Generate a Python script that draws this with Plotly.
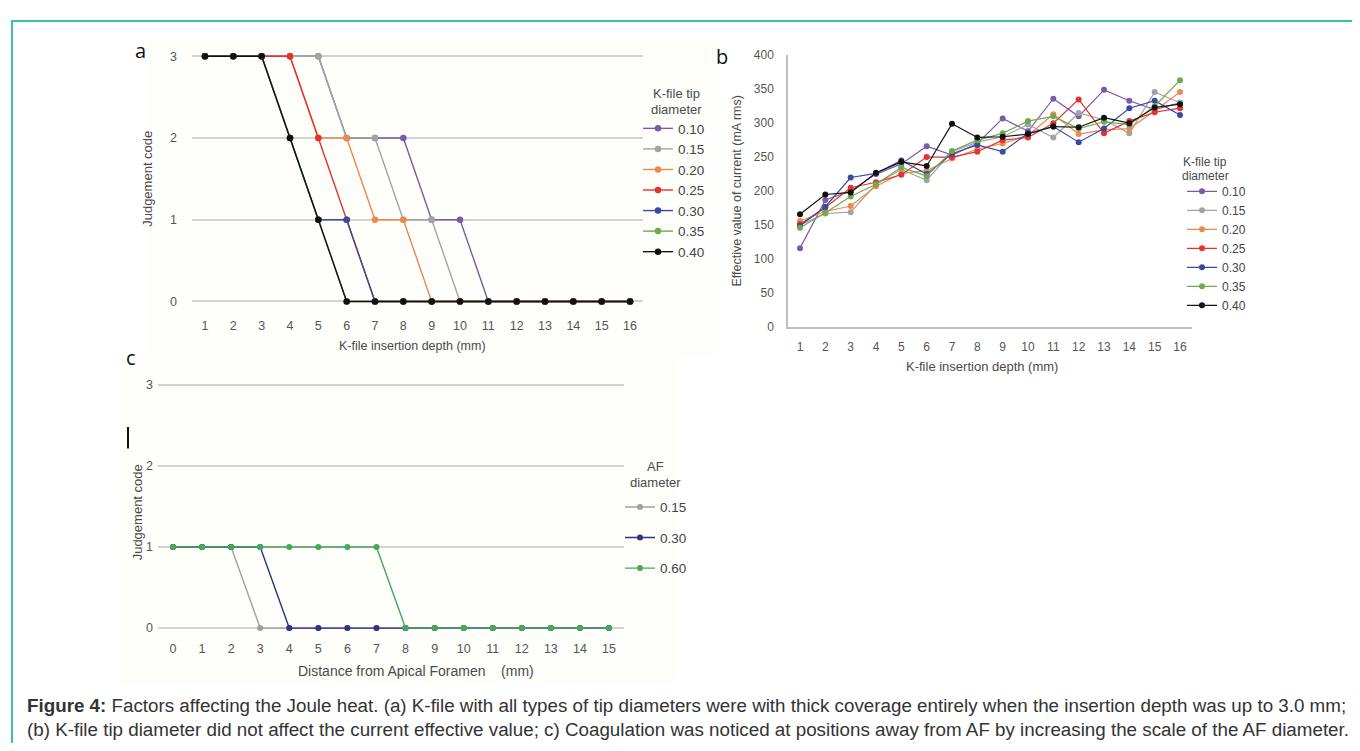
import plotly.graph_objects as go

# page body has an 8px margin; figure sized so the page never overflows the window
OFF = 8
W, H = 1360 - OFF, 751 - 2 * OFF

# ---------------- data ----------------
depth_a = list(range(1, 17))
tip_labels = ["0.10", "0.15", "0.20", "0.25", "0.30", "0.35", "0.40"]
tip_colors = ["#7a5ba8", "#a3a3a3", "#eb8a4b", "#e8302c", "#3c4a9e", "#6fa94d", "#111111"]

code_010 = [3, 3, 3, 3, 3, 2, 2, 2, 1, 1, 0, 0, 0, 0, 0, 0]
code_015 = [3, 3, 3, 3, 3, 2, 2, 1, 1, 0, 0, 0, 0, 0, 0, 0]
code_020 = [3, 3, 3, 3, 2, 2, 1, 1, 0, 0, 0, 0, 0, 0, 0, 0]
code_025 = [3, 3, 3, 3, 2, 1, 0, 0, 0, 0, 0, 0, 0, 0, 0, 0]
code_030 = [3, 3, 3, 2, 1, 1, 0, 0, 0, 0, 0, 0, 0, 0, 0, 0]
code_035 = [3, 3, 3, 2, 1, 0, 0, 0, 0, 0, 0, 0, 0, 0, 0, 0]
code_040 = [3, 3, 3, 2, 1, 0, 0, 0, 0, 0, 0, 0, 0, 0, 0, 0]
codes_a = [code_010, code_015, code_020, code_025, code_030, code_035, code_040]

depth_b = list(range(1, 17))
cur_010 = [116, 187, 200, 225, 240, 266, 253, 270, 307, 288, 336, 310, 349, 333, 320, 330]
cur_015 = [150, 167, 169, 210, 232, 216, 258, 272, 280, 298, 279, 315, 305, 285, 346, 330]
cur_020 = [156, 170, 178, 207, 226, 230, 248, 262, 270, 282, 313, 284, 290, 292, 318, 346]
cur_025 = [151, 176, 205, 213, 224, 250, 250, 258, 275, 279, 300, 335, 285, 303, 316, 322]
cur_030 = [149, 177, 220, 226, 245, 225, 255, 268, 258, 285, 295, 272, 292, 322, 333, 312]
cur_035 = [146, 168, 192, 210, 235, 222, 259, 275, 285, 303, 310, 292, 302, 298, 325, 363]
cur_040 = [166, 195, 198, 227, 243, 237, 299, 279, 280, 284, 295, 294, 308, 300, 323, 328]
currents_b = [cur_010, cur_015, cur_020, cur_025, cur_030, cur_035, cur_040]

dist_c = list(range(0, 16))
af_labels = ["0.15", "0.30", "0.60"]
af_colors = ["#a0a0a0", "#2f3580", "#45a85a"]
af_015 = [1, 1, 1, 0, 0, 0, 0, 0, 0, 0, 0, 0, 0, 0, 0, 0]
af_030 = [1, 1, 1, 1, 0, 0, 0, 0, 0, 0, 0, 0, 0, 0, 0, 0]
af_060 = [1, 1, 1, 1, 1, 1, 1, 1, 0, 0, 0, 0, 0, 0, 0, 0]
codes_c = [af_015, af_030, af_060]

ticks_a = list(range(1, 17))
ticks_b_y = [0, 50, 100, 150, 200, 250, 300, 350, 400]
ticks_c = list(range(0, 16))

# ---------------- helpers (window pixel layout -> paper/range) ----------------
def px(x):
    return (x - OFF) / W

def py(y):
    return 1 - (y - OFF) / H

def axis_range(v1, p1, v2, p2, lo, hi):
    s = (p2 - p1) / (v2 - v1)
    return [v1 + (lo - p1) / s, v1 + (hi - p1) / s]

FAM = "Liberation Sans, Arial"
TXT = "#4a4a4a"
TICKA = dict(family=FAM, size=12.5, color="#555555")
TICKB = dict(family=FAM, size=12, color="#555555")
GRID = "#d2d2d2"

fig = go.Figure()

for lab, col, ys in zip(tip_labels, tip_colors, codes_a):
    fig.add_trace(go.Scatter(
        x=depth_a, y=ys, name=lab, mode="lines+markers",
        line=dict(color=col, width=1.4), marker=dict(color=col, size=6.5),
        xaxis="x", yaxis="y", legend="legend"))

for lab, col, ys in zip(tip_labels, tip_colors, currents_b):
    fig.add_trace(go.Scatter(
        x=depth_b, y=ys, name=lab, mode="lines+markers",
        line=dict(color=col, width=1.2), marker=dict(color=col, size=6),
        xaxis="x2", yaxis="y2", legend="legend2"))

for i, (lab, col, ys) in enumerate(zip(af_labels, af_colors, codes_c)):
    fig.add_trace(go.Scatter(
        x=dist_c, y=ys, name=lab, mode="lines+markers",
        line=dict(color=col, width=1.4), marker=dict(color=col, size=6),
        xaxis="x3", yaxis="y3", legend="legend3", legendgroup="g%d" % i))

xa_dom = [192, 643]; ya_dom = [42, 308]
xb_dom = [788, 1192]; yb_dom = [49, 326]
xc_dom = [158, 624]; yc_dom = [377, 641]

fig.update_layout(
    xaxis=dict(domain=[px(xa_dom[0]), px(xa_dom[1])],
               range=axis_range(1, 205, 16, 630, xa_dom[0], xa_dom[1]),
               tickvals=ticks_a, showgrid=False, zeroline=False, showline=False,
               tickfont=TICKA, ticklabelstandoff=7, anchor="y"),
    yaxis=dict(domain=[py(ya_dom[1]), py(ya_dom[0])],
               range=axis_range(0, 300, 3, 50, ya_dom[1], ya_dom[0]),
               tickvals=[0, 1, 2, 3], showgrid=True, gridcolor=GRID, gridwidth=1.5,
               zeroline=False, showline=False, tickfont=TICKA,
               ticklabelstandoff=14, anchor="x"),
    xaxis2=dict(domain=[px(xb_dom[0]), px(xb_dom[1])],
                range=axis_range(1, 800, 16, 1180, xb_dom[0], xb_dom[1]),
                tickvals=ticks_a, showgrid=False, zeroline=False,
                showline=True, linecolor="#bdbdbd", linewidth=1.5,
                tickfont=TICKB, ticklabelstandoff=8, anchor="y2"),
    yaxis2=dict(domain=[py(yb_dom[1]), py(yb_dom[0])],
                range=[0, 400], tickvals=ticks_b_y, showgrid=False, zeroline=False,
                showline=True, linecolor="#bdbdbd", linewidth=1.5,
                tickfont=TICKB, ticklabelstandoff=10, anchor="x2"),
    xaxis3=dict(domain=[px(xc_dom[0]), px(xc_dom[1])],
                range=axis_range(0, 173, 15, 609, xc_dom[0], xc_dom[1]),
                tickvals=ticks_c, showgrid=False, zeroline=False, showline=False,
                tickfont=TICKA, ticklabelstandoff=4, anchor="y3"),
    yaxis3=dict(domain=[py(yc_dom[1]), py(yc_dom[0])],
                range=axis_range(0, 633, 3, 385, yc_dom[1], yc_dom[0]),
                tickvals=[0, 1, 2, 3], showgrid=True, gridcolor=GRID, gridwidth=1.5,
                zeroline=False, showline=False, tickfont=TICKA,
                ticklabelstandoff=4, anchor="x3"),
)

fig.update_layout(
    legend=dict(x=px(638), y=py(108), xanchor="left", yanchor="top",
                font=dict(family=FAM, size=13.5, color="#444444"),
                bgcolor="rgba(0,0,0,0)", itemwidth=30, traceorder="normal"),
    legend2=dict(x=px(1182), y=py(173), xanchor="left", yanchor="top",
                 font=dict(family=FAM, size=12, color="#444444"),
                 bgcolor="rgba(0,0,0,0)", itemwidth=30, traceorder="normal"),
    legend3=dict(x=px(620), y=py(494), xanchor="left", yanchor="top",
                 font=dict(family=FAM, size=13.5, color="#444444"),
                 bgcolor="rgba(0,0,0,0)", itemwidth=30,
                 traceorder="grouped", tracegroupgap=10),
)

ann = []
def text(x, y, s, size=12, color=TXT, angle=0, family=FAM, xanchor="center"):
    ann.append(dict(x=px(x), y=py(y), xref="paper", yref="paper", text=s,
                    showarrow=False, textangle=angle, xanchor=xanchor, yanchor="middle",
                    font=dict(size=size, color=color, family=family)))

# axis titles
text(412, 345, "K-file insertion depth (mm)", size=12.5)
text(148, 175, "Judgement code", size=13, angle=-90)
text(982, 366, "K-file insertion depth (mm)", size=13)
text(737, 187, "Effective value of current (mA rms)", size=12.5, angle=-90)
text(416, 677, "Distance from Apical Foramen &nbsp;&nbsp;&nbsp;(mm)", size=14)
text(137, 515, "Judgement code", size=13, angle=-90)
# legend titles
text(676, 88, "K-file tip", size=13)
text(676, 104, "diameter", size=13)
text(1205, 158, "K-file tip", size=12)
text(1205, 172, "diameter", size=12)
text(655, 468, "AF", size=13)
text(655, 485, "diameter", size=13)
# panel letters
for lx, ly, l in [(140, 44, "a"), (722, 50, "b"), (131, 357, "c")]:
    text(lx, ly, l, size=20, color="#111111", family="Open Sans")
# caption
text(25, 712, "<b>Figure 4:</b> Factors affecting the Joule heat. (a) K-file with all types of tip diameters were with thick coverage entirely when the insertion depth was up to 3.0 mm;",
     size=18.8, color="#333333", xanchor="left")
text(25, 736, "(b) K-file tip diameter did not affect the current effective value; c) Coagulation was noticed at positions away from AF by increasing the scale of the AF diameter.",
     size=18.8, color="#333333", xanchor="left")

shapes = [
    # very faint cream backgrounds of the embedded panel images a and c
    dict(type="rect", xref="paper", yref="paper", x0=px(147), x1=px(718), y0=py(33), y1=py(355),
         line=dict(width=0), fillcolor="#fefefb", layer="below"),
    dict(type="rect", xref="paper", yref="paper", x0=px(120), x1=px(677), y0=py(355), y1=py(690),
         line=dict(width=0), fillcolor="#fefefb", layer="below"),
    dict(type="rect", xref="paper", yref="paper", x0=px(12), x1=px(1380), y0=py(14), y1=py(770),
         line=dict(color="#3bbfa5", width=2), fillcolor="rgba(0,0,0,0)", layer="below"),
    dict(type="line", xref="paper", yref="paper", x0=px(128), x1=px(128), y0=py(428), y1=py(450),
         line=dict(color="#111111", width=2)),
]

fig.update_layout(
    width=W, height=H, margin=dict(l=0, r=0, t=0, b=0),
    paper_bgcolor="white", plot_bgcolor="rgba(0,0,0,0)",
    annotations=ann, shapes=shapes, showlegend=True,
    font=dict(family=FAM),
)

fig.write_html("out.html")
